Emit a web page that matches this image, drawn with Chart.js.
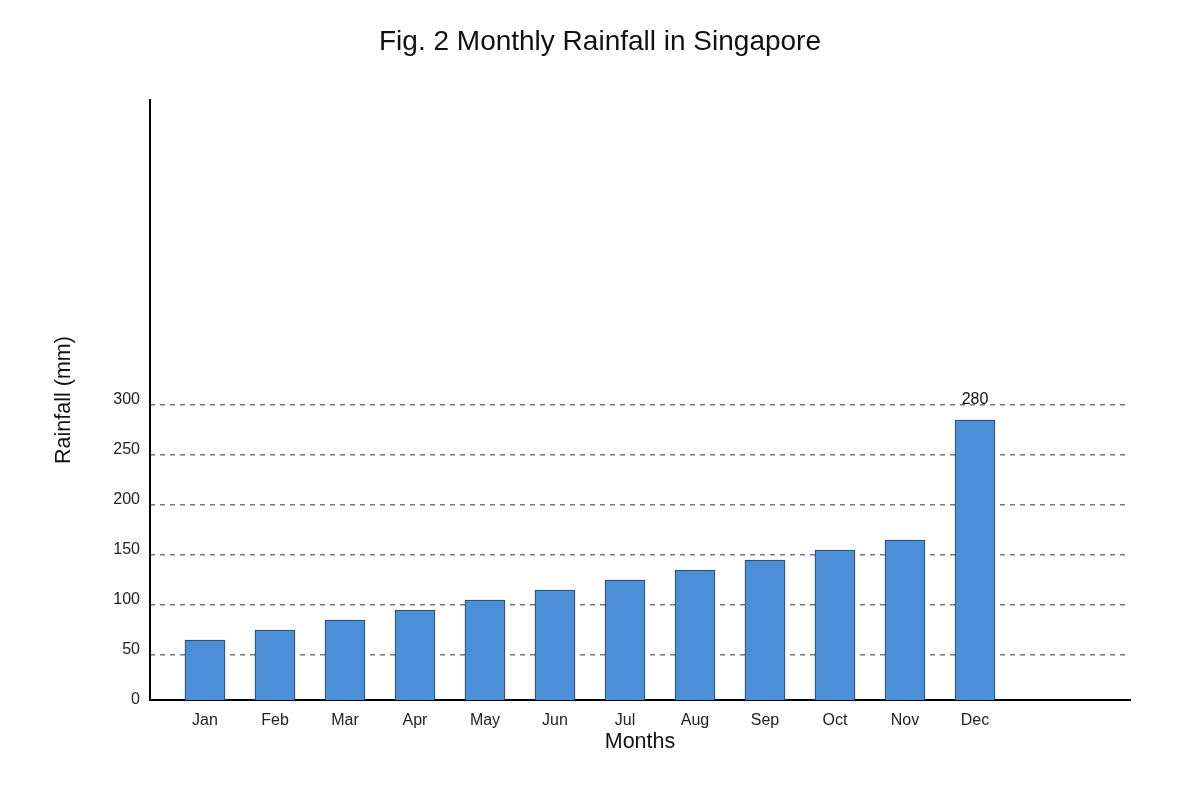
<!DOCTYPE html>
<html>
<head>
<meta charset="utf-8">
<style>
  html, body { margin: 0; padding: 0; background: #fff; }
  #wrap { width: 1200px; height: 800px; }
</style>
<script src="https://cdn.jsdelivr.net/npm/chart.js@4"></script>
</head>
<body>
<div id="wrap"><canvas id="chart" width="1200" height="800"></canvas></div>
<script>
// datos del gráfico
const months = ["Jan", "Feb", "Mar", "Apr", "May", "Jun", "Jul", "Aug", "Sep", "Oct", "Nov", "Dec"];
const rainfall = [60, 70, 80, 90, 100, 110, 120, 130, 140, 150, 160, 280];
const yTicks = [0, 50, 100, 150, 200, 250, 300];
const gridTicks = [50, 100, 150, 200, 250, 300];
const labelledIndex = [11];

const FONT = "'Liberation Sans', Arial, sans-serif";

// etiqueta de valor sobre la barra de diciembre
const valueLabels = {
  id: "valueLabels",
  afterDatasetsDraw(chart) {
    const ctx = chart.ctx;
    const meta = chart.getDatasetMeta(0);
    ctx.save();
    ctx.font = "16px " + FONT;
    ctx.fillStyle = "#111";
    ctx.textAlign = "center";
    ctx.textBaseline = "middle";
    labelledIndex.forEach(i => {
      const bar = meta.data[i];
      ctx.fillText(String(rainfall[i]), bar.x, bar.y - 20);
    });
    ctx.restore();
  }
};

new Chart(document.getElementById("chart"), {
  type: "bar",
  data: {
    datasets: [{
      data: rainfall.map((v, i) => ({ x: i, y: v })),
      backgroundColor: "#4a8fd8",
      borderColor: "#2b3a4a",
      borderWidth: 1,
      barThickness: 40
    }]
  },
  plugins: [valueLabels],
  options: {
    responsive: false,
    animation: false,
    layout: { padding: { left: 40, right: 40, top: 0, bottom: 0 } },
    plugins: {
      legend: { display: false },
      tooltip: { enabled: false },
      title: {
        display: true,
        text: "Fig. 2 Monthly Rainfall in Singapore",
        color: "#111",
        font: { family: FONT, size: 28, weight: "normal", lineHeight: 1.2 },
        padding: { top: 25, bottom: 41.4 }
      }
    },
    scales: {
      x: {
        type: "linear",
        offset: false,
        min: -55 / 70,
        max: 14 - 55 / 70,
        afterBuildTicks: s => { s.ticks = months.map((m, i) => ({ value: i })); },
        afterFit: s => { s.height = 100; },
        grid: { display: false, drawTicks: false },
        border: { display: true, color: "#000", width: 2 },
        ticks: {
          color: "#222",
          padding: 11,
          maxRotation: 0,
          autoSkip: false,
          font: { family: FONT, size: 16 },
          callback: v => months[v]
        },
        title: {
          display: true,
          text: "Months",
          color: "#111",
          font: { family: FONT, size: 21.5 },
          padding: { top: 0, bottom: 45 }
        }
      },
      y: {
        min: 0,
        max: 600,
        afterBuildTicks: s => { s.ticks = yTicks.map(v => ({ value: v })); },
        afterFit: s => { s.width = 110; },
        grid: { display: false, drawTicks: false },
        border: { display: true, color: "#000", width: 2 },
        ticks: {
          color: "#222",
          padding: 10,
          font: { family: FONT, size: 16 }
        },
        title: {
          display: true,
          text: "Rainfall (mm)",
          color: "#111",
          font: { family: FONT, size: 21.5 },
          padding: { top: 11, bottom: 0 }
        }
      },
      // líneas punteadas de la cuadrícula (desplazadas como en el original)
      yGrid: {
        position: "left",
        min: 5,
        max: 605,
        afterBuildTicks: s => { s.ticks = gridTicks.map(v => ({ value: v })); },
        afterFit: s => { s.width = 0; },
        grid: {
          display: true,
          drawTicks: false,
          color: "#777",
          lineWidth: 1.5
        },
        border: { display: false, dash: [5, 5] },
        ticks: { display: false }
      },
      // eje vacío a la derecha para centrar el título
      ySpacer: {
        position: "right",
        min: 0,
        max: 600,
        afterFit: s => { s.width = 30; },
        grid: { display: false, drawTicks: false },
        border: { display: false },
        ticks: { display: false }
      }
    }
  }
});
</script>
</body>
</html>
